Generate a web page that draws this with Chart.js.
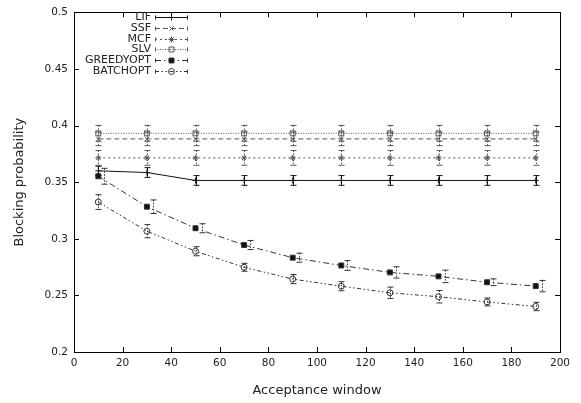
<!DOCTYPE html>
<html>
<head>
<meta charset="utf-8">
<script src="https://cdn.jsdelivr.net/npm/chart.js@4.4.0/dist/chart.umd.min.js"></script>
<style>
  html, body { margin: 0; padding: 0; background: #fff; }
  #wrap { width: 581px; height: 403px; position: relative; }
</style>
</head>
<body>
<div id="wrap"><canvas id="myChart"></canvas></div>
<script>
// acceptance window values (x)
const windows = [10, 30, 50, 70, 90, 110, 130, 150, 170, 190];

// blocking probability per policy
const lif = [0.360, 0.3585, 0.3515, 0.3515, 0.3515, 0.3515, 0.3515, 0.3515, 0.3515, 0.3515];
const ssf = [0.3882, 0.3882, 0.3882, 0.3882, 0.3882, 0.3882, 0.3882, 0.3882, 0.3882, 0.3882];
const mcf = [0.3714, 0.3714, 0.3714, 0.3714, 0.3714, 0.3714, 0.3714, 0.3714, 0.3714, 0.3714];
const slv = [0.3931, 0.3931, 0.3931, 0.3931, 0.3931, 0.3931, 0.3931, 0.3931, 0.3931, 0.3931];
const greedyopt = [0.3552, 0.3283, 0.3093, 0.2945, 0.2833, 0.2764, 0.2703, 0.2668, 0.2616, 0.2582];
const batchopt = [0.3324, 0.3067, 0.2890, 0.2748, 0.2644, 0.2581, 0.2523, 0.2488, 0.2442, 0.2402];

// error bar half widths
const lifErr = [0.004, 0.0043, 0.0043, 0.0043, 0.0043, 0.0043, 0.0043, 0.0043, 0.0043, 0.0043];
const ssfErr = [0.006, 0.006, 0.006, 0.006, 0.006, 0.006, 0.006, 0.006, 0.006, 0.006];
const mcfErr = [0.0065, 0.0065, 0.0065, 0.0065, 0.0065, 0.0065, 0.0065, 0.0065, 0.0065, 0.0065];
const slvErr = [0.007, 0.007, 0.007, 0.007, 0.007, 0.007, 0.007, 0.007, 0.007, 0.007];
const greedyErr = [0.007, 0.006, 0.004, 0.004, 0.004, 0.0043, 0.005, 0.0055, 0.003, 0.005];
const batchErr = [0.0065, 0.0058, 0.004, 0.0035, 0.004, 0.004, 0.005, 0.0055, 0.0035, 0.0037];

const xTicks = [0, 20, 40, 60, 80, 100, 120, 140, 160, 180, 200];
const yTicks = [0.2, 0.25, 0.3, 0.35, 0.4, 0.45, 0.5];

const FONT = "'DejaVu Sans', sans-serif";

function pts(arr) {
    return windows.map((x, i) => ({ x: x, y: arr[i] }));
}

function mkSet(label, arr, err, color, dash, style, fill, radius, errShift) {
    return {
        label: label,
        data: pts(arr),
        errors: err,
        errShift: errShift || 0,
        borderColor: color,
        borderWidth: 1,
        borderDash: dash,
        pointStyle: style,
        pointRadius: radius,
        pointHoverRadius: radius,
        pointBorderColor: color,
        pointBorderWidth: 1,
        pointBackgroundColor: fill,
        tension: 0,
        fill: false
    };
}

const datasets = [
    mkSet('LIF', lif, lifErr, '#111', [], 'cross', '#111', 3),
    mkSet('SSF', ssf, ssfErr, '#555', [5, 3], 'crossRot', '#555', 3),
    mkSet('MCF', mcf, mcfErr, '#555', [2, 3], 'star', '#555', 3),
    mkSet('SLV', slv, slvErr, '#555', [1, 1.5], 'rect', 'rgba(255,255,255,0)', 3.5),
    mkSet('GREEDYOPT', greedyopt, greedyErr, '#333', [6, 3, 1.5, 3], 'rect', '#111', 3.5, 2.5),
    mkSet('BATCHOPT', batchopt, batchErr, '#333', [4, 2.5, 1.5, 2.5, 1.5, 2.5], 'circle', 'rgba(255,255,255,0)', 3)
];

// error bars, drawn through the scales
const errorBars = {
    id: 'errorBars',
    afterDatasetsDraw(chart) {
        const ctx = chart.ctx, xs = chart.scales.x, ys = chart.scales.y;
        chart.data.datasets.forEach(ds => {
            ctx.save();
            ctx.strokeStyle = ds.borderColor;
            ctx.lineWidth = 1;
            ds.data.forEach((p, i) => {
                const px = Math.round(xs.getPixelForValue(p.x + ds.errShift)) + 0.5;
                const top = ys.getPixelForValue(p.y + ds.errors[i]);
                const bot = ys.getPixelForValue(p.y - ds.errors[i]);
                ctx.setLineDash(ds.borderDash.length ? [1.5, 1.5] : []);
                ctx.beginPath();
                ctx.moveTo(px, top);
                ctx.lineTo(px, bot);
                ctx.stroke();
                ctx.setLineDash([]);
                ctx.beginPath();
                ctx.moveTo(px - 3, top); ctx.lineTo(px + 3, top);
                ctx.moveTo(px - 3, bot); ctx.lineTo(px + 3, bot);
                ctx.stroke();
            });
            ctx.restore();
        });
    }
};

// gnuplot style frame with inward ticks + legend in the corner
const frame = {
    id: 'frame',
    afterDraw(chart) {
        const ctx = chart.ctx, a = chart.chartArea;
        const xs = chart.scales.x, ys = chart.scales.y;
        ctx.save();
        ctx.strokeStyle = '#000';
        ctx.lineWidth = 1;
        ctx.setLineDash([]);
        ctx.strokeRect(Math.round(a.left) + 0.5, Math.round(a.top) + 0.5,
            Math.round(a.right - a.left), Math.round(a.bottom - a.top));
        ctx.beginPath();
        xTicks.forEach(t => {
            const px = Math.round(xs.getPixelForValue(t)) + 0.5;
            ctx.moveTo(px, a.bottom); ctx.lineTo(px, a.bottom - 5);
            ctx.moveTo(px, a.top); ctx.lineTo(px, a.top + 5);
        });
        yTicks.forEach(t => {
            const py = Math.round(ys.getPixelForValue(t)) + 0.5;
            ctx.moveTo(a.left, py); ctx.lineTo(a.left + 5, py);
            ctx.moveTo(a.right, py); ctx.lineTo(a.right - 5, py);
        });
        ctx.stroke();

        // legend
        ctx.font = '11px ' + FONT;
        ctx.textAlign = 'right';
        ctx.textBaseline = 'middle';
        chart.data.datasets.forEach((ds, i) => {
            const y = Math.round(17 + i * 10.8) + 0.5;
            ctx.fillStyle = '#222';
            ctx.fillText(ds.label, 151, y);
            ctx.strokeStyle = ds.borderColor;
            ctx.setLineDash(ds.borderDash);
            ctx.beginPath();
            ctx.moveTo(155, y); ctx.lineTo(188, y);
            ctx.stroke();
            ctx.setLineDash([]);
            ctx.beginPath();
            ctx.moveTo(155.5, y - 2); ctx.lineTo(155.5, y + 2);
            ctx.moveTo(187.5, y - 2); ctx.lineTo(187.5, y + 2);
            ctx.stroke();
            if (Chart.helpers && Chart.helpers.drawPoint) {
                ctx.fillStyle = ds.pointBackgroundColor;
                ctx.strokeStyle = ds.pointBorderColor;
                Chart.helpers.drawPoint(ctx, {
                    pointStyle: ds.pointStyle,
                    radius: ds.pointRadius,
                    rotation: 0,
                    borderWidth: 1
                }, 171.5, y);
            }
        });
        ctx.restore();
    }
};

const ctx = document.getElementById('myChart').getContext('2d');
new Chart(ctx, {
    type: 'line',
    data: { datasets: datasets },
    options: {
        responsive: true,
        maintainAspectRatio: false,
        animation: false,
        events: [],
        layout: { padding: { top: 6, right: 21, left: 0, bottom: 0 } },
        plugins: {
            legend: { display: false },
            tooltip: { enabled: false }
        },
        scales: {
            x: {
                type: 'linear',
                min: 0,
                max: 200,
                afterFit: s => { s.height = 51; },
                afterBuildTicks: s => { s.ticks = xTicks.map(v => ({ value: v })); },
                ticks: { color: '#222', font: { family: FONT, size: 10.5 }, padding: 5, maxRotation: 0 },
                grid: { display: false, drawTicks: false },
                border: { display: false },
                title: { display: true, text: 'Acceptance window', color: '#222',
                    font: { family: FONT, size: 13 }, padding: { top: 0, bottom: 5 } }
            },
            y: {
                min: 0.2,
                max: 0.5,
                afterFit: s => { s.width = 74; },
                afterBuildTicks: s => { s.ticks = yTicks.map(v => ({ value: v })); },
                ticks: {
                    color: '#222',
                    font: { family: FONT, size: 10.5 },
                    padding: 6,
                    callback: v => String(Number(v.toFixed(2)))
                },
                grid: { display: false, drawTicks: false },
                border: { display: false },
                title: { display: true, text: 'Blocking probability', color: '#222',
                    font: { family: FONT, size: 13 }, padding: { top: 12, bottom: 0 } }
            }
        }
    },
    plugins: [errorBars, frame]
});
</script>
</body>
</html>
